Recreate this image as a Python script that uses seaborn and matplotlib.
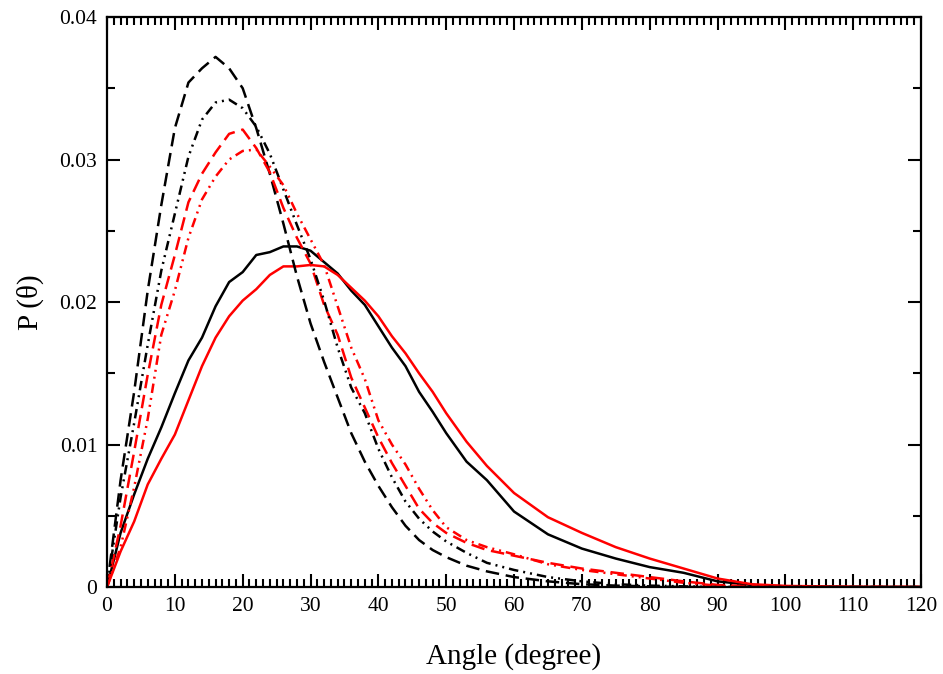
import numpy as np
import pandas as pd
import matplotlib
matplotlib.use("Agg")
import matplotlib.pyplot as plt
from matplotlib.ticker import FixedLocator, MultipleLocator
import seaborn as sns

angle = [0, 2, 4, 6, 8, 10, 12, 14, 16, 18, 20, 22, 24, 26, 28, 30, 32, 34, 36, 38,
         40, 42, 44, 46, 48, 50, 53, 56, 60, 65, 70, 75, 80, 85, 90, 95, 100, 110, 120]

black_solid = [0, 0.0038, 0.0065, 0.0090, 0.0112, 0.0136, 0.0159, 0.0175, 0.0197, 0.0214,
               0.0221, 0.0233, 0.0235, 0.0239, 0.0239, 0.0236, 0.0228, 0.0220, 0.0208, 0.0198,
               0.0183, 0.0168, 0.0155, 0.0137, 0.0123, 0.0108, 0.0088, 0.0075, 0.0053, 0.0037,
               0.0027, 0.0020, 0.0014, 0.0010, 0.0004, 0.00015, 0.00005, 0.0, 0.0]
red_solid = [0, 0.0025, 0.0046, 0.0072, 0.0090, 0.0107, 0.0131, 0.0155, 0.0175, 0.0190,
             0.0201, 0.0209, 0.0219, 0.0225, 0.0225, 0.0226, 0.0225, 0.0219, 0.0210, 0.0201,
             0.0190, 0.0176, 0.0164, 0.0150, 0.0137, 0.0122, 0.0102, 0.0085, 0.0066, 0.0049,
             0.0038, 0.0028, 0.0020, 0.0013, 0.0006, 0.0002, 0.00008, 0.00002, 0.0]
black_dashed = [0, 0.0075, 0.0137, 0.0208, 0.0268, 0.0322, 0.0354, 0.0364, 0.0372, 0.0364,
                0.0350, 0.0322, 0.0290, 0.0255, 0.0218, 0.0185, 0.0158, 0.0133, 0.0108, 0.0088,
                0.0071, 0.0056, 0.0043, 0.0033, 0.0026, 0.0021, 0.0015, 0.0011, 0.0007, 0.0004,
                0.0002, 0.0001, 0.00005, 0.0, 0.0, 0.0, 0.0, 0.0, 0.0]
black_dashdot = [0, 0.0063, 0.0115, 0.0170, 0.0222, 0.0262, 0.0302, 0.0328, 0.0340, 0.0342,
                 0.0336, 0.0323, 0.0304, 0.0279, 0.0254, 0.0230, 0.0201, 0.0168, 0.0140, 0.0122,
                 0.0097, 0.0077, 0.0060, 0.0048, 0.0039, 0.0032, 0.0024, 0.0017, 0.0012, 0.0007,
                 0.0004, 0.0002, 0.0001, 0.00005, 0.0, 0.0, 0.0, 0.0, 0.0]
red_dashed = [0, 0.0043, 0.0095, 0.0149, 0.0198, 0.0233, 0.0270, 0.0290, 0.0305, 0.0318,
              0.0321, 0.0308, 0.0291, 0.0266, 0.0245, 0.0227, 0.0198, 0.0177, 0.0147, 0.0126,
              0.0105, 0.0087, 0.0071, 0.0055, 0.0045, 0.0038, 0.0031, 0.0026, 0.0022, 0.0017,
              0.0013, 0.0010, 0.0007, 0.0004, 0.00015, 0.00005, 0.0, 0.0, 0.0]
red_dashdot = [0, 0.0028, 0.0070, 0.0118, 0.0177, 0.0208, 0.0245, 0.0272, 0.0288, 0.0300,
               0.0306, 0.0307, 0.0295, 0.0282, 0.0262, 0.0244, 0.0226, 0.0197, 0.0168, 0.0146,
               0.0117, 0.0100, 0.0086, 0.0069, 0.0054, 0.0042, 0.0033, 0.0028, 0.0023, 0.0016,
               0.0012, 0.0009, 0.0006, 0.0003, 0.0001, 0.0, 0.0, 0.0, 0.0]

x_ticks = [0, 10, 20, 30, 40, 50, 60, 70, 80, 90, 100, 110, 120]
x_ticklabels = ["0", "10", "20", "30", "40", "50", "60", "70", "80", "90", "100", "110", "120"]
y_ticks = [0, 0.01, 0.02, 0.03, 0.04]
y_ticklabels = ["0", "0.01", "0.02", "0.03", "0.04"]

sns.set_style("ticks")
plt.rcParams['font.family'] = ['Liberation Serif', 'DejaVu Serif']
plt.rcParams['mathtext.fontset'] = 'stix'
plt.rcParams['text.color'] = 'black'
plt.rcParams['axes.labelcolor'] = 'black'
plt.rcParams['xtick.color'] = 'black'
plt.rcParams['ytick.color'] = 'black'

fig = plt.figure(figsize=(9.43, 6.74), dpi=100)
ax = fig.add_axes([0.1135, 0.129, 0.8632, 0.8458])

lw = 1.8
dash = (0, (5.4, 2.7))
dashdotdot = (0, (3.8, 2.0, 0.8, 2.0, 0.8, 2.0))

series = [
    (black_solid, "black", "-"),
    (red_solid, "red", "-"),
    (black_dashed, "black", dash),
    (red_dashed, "red", dash),
    (black_dashdot, "black", dashdotdot),
    (red_dashdot, "red", dashdotdot),
]
for vals, col, ls in series:
    sns.lineplot(x=angle, y=vals, color=col, linestyle=ls, linewidth=lw, ax=ax,
                 estimator=None, sort=False)

ax.set_xlim(0, 120)
ax.set_ylim(0, 0.04)
ax.xaxis.set_major_locator(FixedLocator(x_ticks))
ax.set_xticklabels(x_ticklabels)
ax.yaxis.set_major_locator(FixedLocator(y_ticks))
ax.set_yticklabels(y_ticklabels)
ax.xaxis.set_minor_locator(MultipleLocator(1))
ax.yaxis.set_minor_locator(MultipleLocator(0.005))

ax.tick_params(which='both', direction='in', top=True, right=True, width=1.5,
               colors='black', labelcolor='black')
ax.tick_params(which='major', length=9.5, labelsize=15.5, pad=7)
ax.tick_params(which='minor', length=5.5)
for s in ax.spines.values():
    s.set_linewidth(1.6)
    s.set_color('black')

ax.set_xlabel("Angle (degree)", fontsize=21, labelpad=20, color='black')
ax.set_ylabel("P (θ)", fontsize=21, labelpad=11, color='black')

fig.savefig("out.png", dpi=100)
